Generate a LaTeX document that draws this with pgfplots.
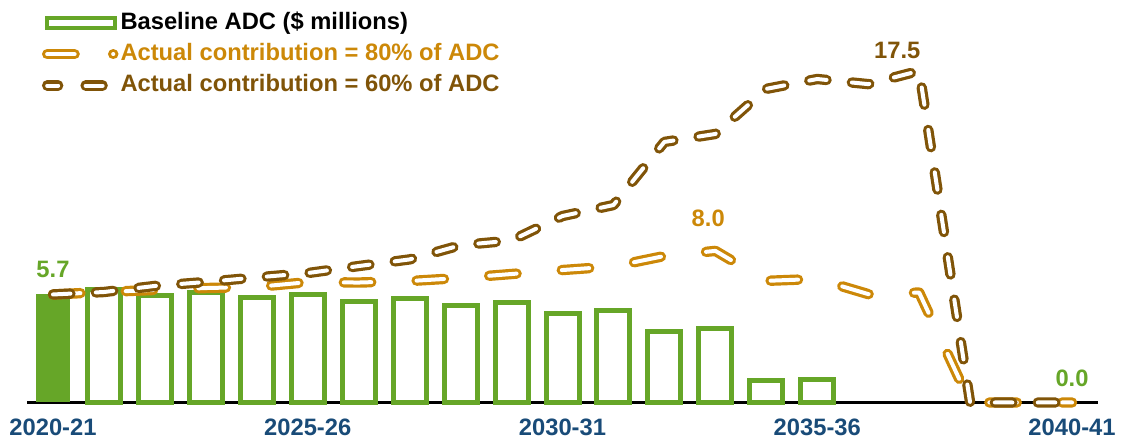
\documentclass[border=0pt]{standalone}
\usepackage{pgfplots}
\pgfplotsset{compat=1.18}
\usepackage{fontspec}
\setmainfont{Liberation Sans}
\definecolor{cgreen}{RGB}{102,166,40}
\definecolor{corange}{RGB}{204,136,8}
\definecolor{cbrown}{RGB}{128,84,8}
\definecolor{cblue}{RGB}{25,75,120}
\begin{document}
\begin{tikzpicture}
\begin{axis}[
  scale only axis,
  width=802.5pt, height=284.25pt,
  xmin=-0.5, xmax=20.5, ymin=0, ymax=20,
  hide y axis,
  axis x line*=bottom,
  x axis line style={line width=2.25pt, black, -},
  xtick={0,5,10,15,20},
  xticklabels={2020-21,2025-26,2030-31,2035-36,2040-41},
  major tick length=0pt,
  xticklabel style={font=\fontsize{17.8}{21}\selectfont\bfseries, text=cblue, anchor=center, yshift=-19pt},
  clip=false,
  legend cell align=left,
  legend style={at={(axis description cs:0,1)}, anchor=north west, xshift=10.85pt, yshift=10.7pt,
    draw=none, fill=none, inner sep=0pt, outer sep=0pt, row sep=3pt, column sep=0pt,
    font=\fontsize{17.8}{21}\selectfont\bfseries,
    nodes={inner sep=1.5pt, text height=13.5pt, text depth=4pt, anchor=west}},
]
% outlined baseline bars
\addplot[ybar, bar shift=0pt, bar width=24.75pt, draw=cgreen, line width=3.75pt, fill=white,
  legend image code/.code={\draw[cgreen,line width=3pt,solid,fill=white] (0pt,-3.75pt) rectangle (51pt,3.75pt); \path[draw=none,fill=none] (-1.5pt,-6pt) rectangle (48.75pt,6pt);}]
  coordinates {(1,5.94) (2,5.67) (3,5.83) (4,5.54) (5,5.71) (6,5.34) (7,5.49) (8,5.13) (9,5.28) (10,4.70) (11,4.83) (12,3.76) (13,3.88) (14,1.17) (15,1.21)};
\addlegendentry{Baseline ADC (\$ millions)}
% filled first bar
\addplot[ybar, bar shift=0pt, bar width=25.5pt, fill=cgreen, draw=none, forget plot]
  coordinates {(0,5.7)};
% 80% line
\addplot[corange, mark=none, line width=2.4pt, double=white, double distance=3pt, line cap=round, line join=round,
  dash pattern=on 20.6pt off 34pt,
  legend image code/.code={\draw[corange,line width=2.4pt,double=white,double distance=3pt,line cap=round,dash pattern=on 20.6pt off 28.9pt] (0pt,0pt) -- (49.6pt,0pt); \path[draw=none,fill=none] (-1.5pt,-6pt) rectangle (48.75pt,6pt);}]
  coordinates {(0,5.70) (1,5.83) (2,5.94) (3,6.04) (4,6.10) (5,6.35) (6,6.33) (7,6.41) (8,6.57) (9,6.78) (10,6.99) (11,7.18) (12,7.73) (13,8.00) (14,6.42) (15,6.52) (16,5.72) (17,5.80) (18,0) (19,0) (20,0)};
\addlegendentry{\textcolor{corange}{Actual contribution = 80\% of ADC}}
% 60% line
\addplot[cbrown, mark=none, line width=2.4pt, double=white, double distance=3pt, line cap=round, line join=round,
  dash pattern=on 13.1pt off 19.1pt,
  legend image code/.code={\draw[cbrown,line width=2.4pt,double=white,double distance=3pt,line cap=round,dash pattern=on 8.25pt off 20.6pt on 12.75pt off 20pt] (0pt,0pt) -- (41.6pt,0pt); \path[draw=none,fill=none] (-1.5pt,-6pt) rectangle (48.75pt,6pt);}]
  coordinates {(0,5.70) (1,5.83) (2,6.15) (3,6.36) (4,6.60) (5,6.83) (6,7.20) (7,7.55) (8,8.30) (9,8.55) (10,9.84) (11,10.42) (12,13.75) (13,14.17) (14,16.55) (15,17.07) (16,16.80) (17,17.50) (18,0) (19,0) (20,0)};
\addlegendentry{\textcolor{cbrown}{Actual contribution = 60\% of ADC}}
% value labels
\node[font=\fontsize{17.8}{21}\selectfont\bfseries, text=cgreen] at (axis cs:0,7.0) {5.7};
\node[font=\fontsize{17.8}{21}\selectfont\bfseries, text=cgreen] at (axis cs:20,1.3) {0.0};
\node[font=\fontsize{17.8}{21}\selectfont\bfseries, text=corange] at (axis cs:12.86,9.7) {8.0};
\node[font=\fontsize{17.8}{21}\selectfont\bfseries, text=cbrown] at (axis cs:16.57,18.6) {17.5};
\end{axis}
\pgfresetboundingbox
\path ([shift={(-20.625pt,-28.875pt)}]current axis.south west) rectangle ([shift={(18.375pt,17.625pt)}]current axis.north east);
\end{tikzpicture}
\end{document}
